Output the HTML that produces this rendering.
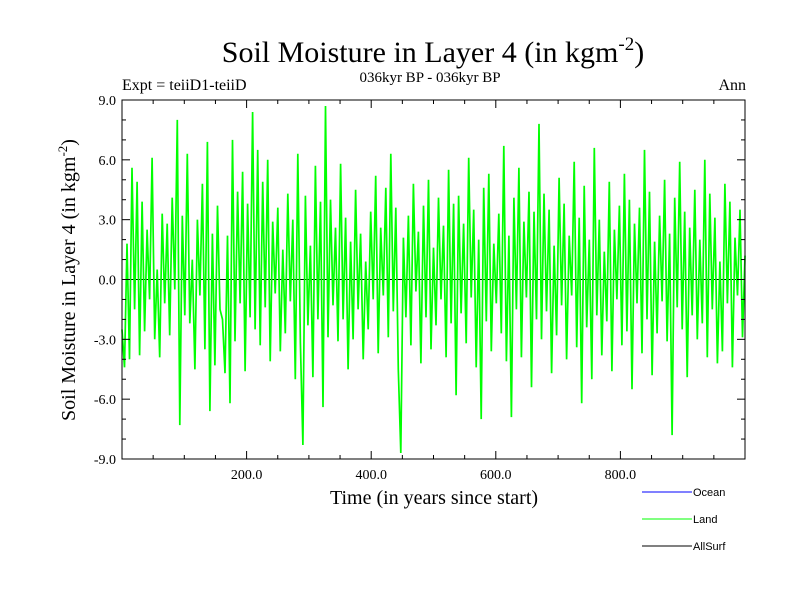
<!DOCTYPE html>
<html><head><meta charset="utf-8"><style>
body{margin:0;background:#fff;width:800px;height:600px;overflow:hidden}
svg text{font-family:"Liberation Serif",serif}
</style></head><body>
<svg width="800" height="600">
<text x="433" y="62" font-size="30" text-anchor="middle">Soil Moisture in Layer 4 (in kgm<tspan dy="-12" font-size="19">-2</tspan><tspan dy="12">)</tspan></text>
<text x="430" y="82" font-size="15" text-anchor="middle">036kyr BP - 036kyr BP</text>
<text x="122" y="90" font-size="16">Expt = teiiD1-teiiD</text>
<text x="746" y="90" font-size="16" text-anchor="end">Ann</text>
<g id="plot"></g>
<text x="434" y="504" font-size="20" text-anchor="middle">Time (in years since start)</text>
<text transform="translate(75,280) rotate(-90)" font-size="20" text-anchor="middle">Soil Moisture in Layer 4 (in kgm<tspan dy="-8" font-size="13">-2</tspan><tspan dy="8">)</tspan></text>
<g font-size="11">
<line x1="642" y1="492" x2="692" y2="492" stroke="#0000ff"/>
<text x="693" y="496" style="font-family:'Liberation Sans',sans-serif">Ocean</text>
<line x1="642" y1="519" x2="692" y2="519" stroke="#00ff00"/>
<text x="693" y="523" style="font-family:'Liberation Sans',sans-serif">Land</text>
<line x1="642" y1="546" x2="692" y2="546" stroke="#000"/>
<text x="693" y="550" style="font-family:'Liberation Sans',sans-serif">AllSurf</text>
</g>
</svg>
<script>
const yearStart = 0, yearEnd = 1000;
const landValues = [
-2.5,-4.4,1.8,-4.0,5.6,-1.5,4.9,-3.8,3.9,-2.6,2.5,-1.0,6.1,-3.0,0.5,-3.9,3.3,-1.2,2.8,-2.8,4.1,-0.5,8.0,-7.3,3.2,
-1.8,6.3,-2.2,1.0,-4.5,3.0,-0.8,4.8,-3.5,6.9,-6.6,2.3,-4.3,3.7,-1.5,-2.0,-4.7,2.2,-6.2,7.0,-3.1,4.4,-1.2,5.4,-4.6,
3.8,-1.9,8.4,-2.5,6.5,-3.3,4.9,-1.4,6.0,-4.1,2.9,-0.7,3.6,-3.6,1.5,-2.7,4.3,-1.1,3.0,-5.0,6.3,-3.2,-8.3,4.2,-2.3,
1.7,-4.9,5.7,-2.0,3.9,-6.4,8.7,-2.9,4.0,-1.3,2.6,-3.1,5.8,-2.0,3.1,-4.5,1.9,-3.0,4.5,-1.5,2.3,-4.0,0.9,-2.5,3.4,
-1.0,5.2,-3.7,2.6,-0.8,4.6,-2.9,6.3,-1.6,3.6,-4.5,-8.7,2.1,-1.9,3.2,-3.3,4.8,-0.6,2.4,-4.2,3.7,-1.9,5.0,-3.5,1.6,
-2.3,4.1,-1.0,2.7,-3.9,5.5,-2.2,3.8,-5.8,4.2,-1.7,2.8,-3.2,6.1,-0.9,3.5,-4.4,2.0,-7.0,4.6,-2.1,5.3,-3.6,1.8,-1.2,
3.3,-2.7,6.7,-4.1,2.2,-6.9,4.1,-1.5,5.6,-3.9,2.9,-0.9,4.4,-5.4,3.4,-2.0,7.8,-3.0,4.3,-1.6,3.5,-4.7,1.7,-2.8,5.1,
-1.3,3.8,-4.0,2.2,-0.8,5.9,-3.4,3.1,-6.2,4.7,-2.4,2.0,-5.0,6.6,-1.8,3.0,-3.8,1.4,-2.1,4.9,-4.6,2.5,-1.0,3.7,-3.3,
5.3,-2.6,4.0,-5.5,2.8,-1.2,3.6,-3.7,6.5,-2.0,4.4,-4.8,1.9,-2.7,3.2,-1.1,5.0,-3.1,2.3,-7.8,4.1,-1.4,5.9,-2.5,3.4,
-4.9,2.6,-1.8,4.5,-3.0,2.0,-2.2,6.0,-3.9,4.3,-1.5,3.1,-4.2,0.9,-3.6,4.8,-1.2,3.9,-4.4,2.1,-0.8,3.5,-2.9,1.2
];
const yTicks = [-9,-6,-3,0,3,6,9];
const xTicks = [200,400,600,800];
const xMin=0,xMax=1000,yMin=-9,yMax=9;
const L=122,R=745,T=100,B=459;
const xs=v=>L+(v-xMin)/(xMax-xMin)*(R-L);
const ys=v=>B-(v-yMin)/(yMax-yMin)*(B-T);
const NS='http://www.w3.org/2000/svg';
const g=document.getElementById('plot');
function mk(tag,attrs){const e=document.createElementNS(NS,tag);for(const k in attrs)e.setAttribute(k,attrs[k]);g.appendChild(e);return e;}
const zl=mk('line',{x1:L,x2:R,y1:ys(0),y2:ys(0),stroke:'#000','stroke-width':1});


const step=(yearEnd-yearStart)/(landValues.length-1);
let d='';
landValues.forEach((v,i)=>{d+=(i?'L':'M')+xs(yearStart+i*step).toFixed(1)+' '+ys(v).toFixed(1);});
const p=mk('path',{d:d,fill:'none',stroke:'#00ff00','stroke-width':1.7});


const fr=mk('rect',{x:L,y:T,width:R-L,height:B-T,fill:'none',stroke:'#000','stroke-width':1});


for(let v=yMin;v<=yMax;v+=1){const y=ys(v);const maj=(v%3===0);
 mk('line',{x1:L,x2:L+(maj?8:4),y1:y,y2:y,stroke:'#000'});mk('line',{x1:R,x2:R-(maj?8:4),y1:y,y2:y,stroke:'#000'});}
yTicks.forEach(v=>{const t=mk('text',{x:L-6,y:ys(v)+5,'font-size':14,'text-anchor':'end'});t.textContent=v.toFixed(1);

});
for(let v=50;v<xMax;v+=50){const x=xs(v);const maj=(v%200===0);
 mk('line',{x1:x,x2:x,y1:B,y2:B-(maj?8:4),stroke:'#000'});mk('line',{x1:x,x2:x,y1:T,y2:T+(maj?8:4),stroke:'#000'});}
xTicks.forEach(v=>{const t=mk('text',{x:xs(v),y:B+20,'font-size':14,'text-anchor':'middle'});t.textContent=v.toFixed(1);

});
</script>
</body></html>
